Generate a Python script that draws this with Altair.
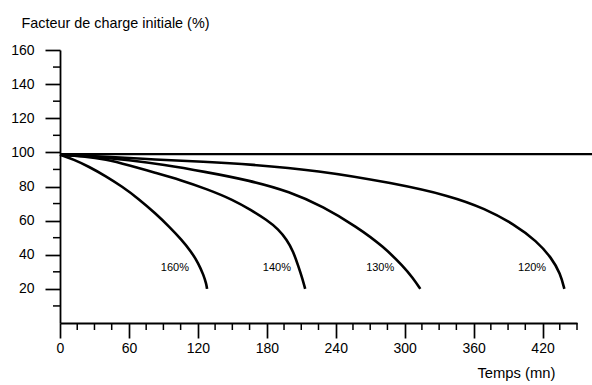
import altair as alt
import pandas as pd

# ---- data ----
t160 = [0, 12, 25, 40, 54, 68, 83, 95, 106, 114, 120.5, 125, 127.3, 128]
v160 = [98.7, 95.8, 91.7, 86, 80, 73, 64.3, 56.5, 48.7, 42, 35, 28, 23, 20]

t140 = [0, 20, 40, 60, 83, 104.5, 128, 151, 166, 180, 190, 197.5, 203, 207.6, 211, 213.4]
v140 = [98.7, 97.8, 96, 92.5, 88, 83.9, 78.5, 72.1, 66.3, 60.4, 55, 48.7, 42, 33, 26, 20]

t130 = [0, 30, 60, 90, 125, 165.5, 200, 229, 258, 281.6, 299, 307, 313.6]
v130 = [98.7, 97.5, 95.5, 92.8, 88.8, 83.5, 77, 68.2, 56.5, 44.8, 33, 26.5, 20]

t120 = [0, 40, 83, 125, 165, 224, 290, 340, 370, 395, 415, 428, 435.5, 439]
v120 = [98.7, 97.5, 95.8, 94.5, 93, 89.5, 82, 74.5, 67, 58, 48, 38, 29, 20]

ref_t = [0, 465]
ref_v = [99, 99]

labels = ["160%", "140%", "130%", "120%"]
label_t = [100, 188.8, 278.7, 410.9]
label_v = [32.3, 32.1, 32.1, 32.4]

x_major = [0, 60, 120, 180, 240, 300, 360, 420]
x_minor = [t for t in range(15, 451, 15) if t % 60 != 0]
y_major = [20, 40, 60, 80, 100, 120, 140, 160]
y_minor = [10, 30, 50, 70, 90, 110, 130, 150]

# ---- tables ----
rows = []
for name, ts, vs in [("160%", t160, v160), ("140%", t140, v140),
                     ("130%", t130, v130), ("120%", t120, v120)]:
    for i, (t, v) in enumerate(zip(ts, vs)):
        rows.append({"serie": name, "t": t, "v": v, "o": i})
curves = pd.DataFrame(rows)
ref = pd.DataFrame({"t": ref_t, "v": ref_v})
lab = pd.DataFrame({"label": labels, "t": label_t, "v": label_v})
xmin = pd.DataFrame({"t": x_minor})
ymin = pd.DataFrame({"v": y_minor})

FONT = "Liberation Sans"
xs = alt.Scale(domain=[0, 450], nice=False, zero=False)
ys = alt.Scale(domain=[0, 160], nice=False, zero=False)

x_axis = alt.Axis(values=x_major, tickSize=15, tickWidth=1.7, tickColor="black",
                  domainColor="black", domainWidth=1.8, grid=False, labelFlush=False,
                  labelFontSize=14, labelFont=FONT, labelColor="black", labelPadding=3,
                  title="Temps (mn)", titleFont=FONT, titleFontSize=14.8,
                  titleFontWeight="normal", titleColor="black",
                  titleX=495, titleY=50, titleAlign="right", titleBaseline="middle")
y_axis = alt.Axis(values=y_major, tickSize=15, tickWidth=1.7, tickColor="black",
                  domainColor="black", domainWidth=1.8, grid=False, labelFlush=False,
                  labelFontSize=14, labelFont=FONT, labelColor="black", labelPadding=11,
                  title="Facteur de charge initiale (%)", titleFont=FONT, titleFontSize=14.4,
                  titleFontWeight="normal", titleColor="black", titleAngle=0,
                  titleX=-39, titleY=-27, titleAlign="left", titleBaseline="middle")

X = alt.X("t:Q", scale=xs, axis=x_axis)
Y = alt.Y("v:Q", scale=ys, axis=y_axis)

curve_layer = alt.Chart(curves).mark_line(color="black", strokeWidth=2.6,
                                          interpolate="basis").encode(
    x=X, y=Y, detail="serie:N", order="o:Q",
)

ref_layer = alt.Chart(ref).mark_line(color="black", strokeWidth=2.4, clip=False).encode(
    x=X, y=Y,
)

text_layer = alt.Chart(lab).mark_text(font=FONT, fontSize=11, color="black",
                                      align="center", baseline="middle").encode(
    x=X, y=Y, text="label:N",
)

xminor_layer = alt.Chart(xmin).mark_rule(color="black", strokeWidth=1.5).encode(
    x=X, y=alt.value(273), y2=alt.value(280),
)

yminor_layer = alt.Chart(ymin).mark_rule(color="black", strokeWidth=1.5).encode(
    y=Y, x=alt.value(0), x2=alt.value(-7),
)

chart = alt.layer(curve_layer, ref_layer, text_layer, xminor_layer, yminor_layer).properties(
    width=517, height=273,
    padding={"left": 60, "top": 50, "right": 15, "bottom": 62},
    autosize=alt.AutoSizeParams(type="none"),
    background="white",
).configure_view(stroke=None)

chart.save("out.html", embed_options={"renderer": "svg", "actions": False})
